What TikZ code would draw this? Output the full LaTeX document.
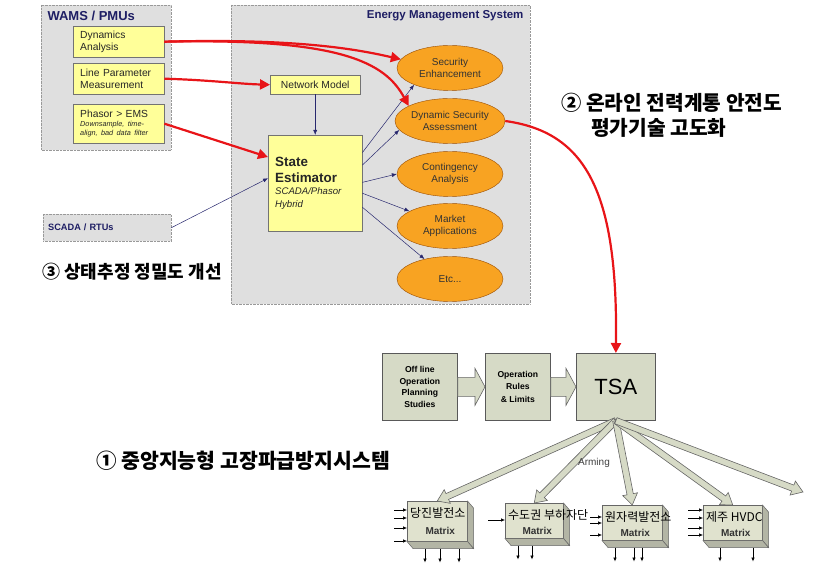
\documentclass[tikz,border=0pt]{standalone}
\usepackage{fontspec}
\setmainfont{Liberation Sans}
\newfontfamily\kfont{Noto Sans CJK KR}
\usetikzlibrary{shapes.geometric,arrows.meta,calc}

\definecolor{panelgray}{RGB}{223,223,223}
\definecolor{titlenavy}{RGB}{30,30,100}
\definecolor{noteyellow}{RGB}{255,255,153}
\definecolor{emsorange}{RGB}{248,163,34}
\definecolor{tsagreen}{RGB}{214,218,198}
\definecolor{matrixgreen}{RGB}{224,226,206}
\definecolor{hotred}{RGB}{232,20,24}
\definecolor{linknavy}{RGB}{40,40,110}

\tikzset{
  panel/.style={draw=gray!80, densely dotted, fill=panelgray},
  note/.style={draw=gray!90!black, fill=noteyellow, anchor=north west, align=left,
    inner xsep=7pt, text=black!85, font=\fontsize{10.3}{12}\selectfont},
  task/.style={ellipse, draw=orange!60!black, fill=emsorange, minimum width=106pt,
    minimum height=45pt, inner sep=0pt, align=center, text=black!80,
    font=\fontsize{10}{12.4}\selectfont},
  redlink/.style={draw=hotred, line width=2.2pt, -{Triangle[length=10pt,width=10pt]}},
  thinlink/.style={draw=linknavy, line width=0.5pt, -{Latex[length=5pt,width=4pt]}},
  stage/.style={draw=black!65, fill=tsagreen, anchor=north west, align=center,
    line width=0.7pt, minimum height=67pt},
  matrixbox/.style={draw=black!60, fill=matrixgreen, anchor=north west, line width=0.5pt},
  matrixside/.style={draw=black!60, fill=matrixgreen!80!black, line width=0.5pt},
  fat/.style={draw=black!60, fill=tsagreen, line width=0.6pt},
  pin/.style={line width=0.6pt, -{Latex[length=4pt,width=3.5pt]}},
  headline/.style={anchor=west, inner sep=0pt, align=left}
}

\begin{document}
\begin{tikzpicture}[x=1pt,y=-1pt]
\useasboundingbox (0,0) rectangle (814,577);

% WAMS side
\draw[panel] (41,5) rectangle (171,150);
\node[anchor=west, text=titlenavy, font=\bfseries\fontsize{13}{15}\selectfont] (wams) at (44,16) {WAMS / PMUs};
\node[note, text width=77pt, minimum height=31pt] (dyn) at (73,26) {Dynamics\\Analysis};
\node[note, text width=77pt, minimum height=31pt] (lpm) at (73,63) {Line Parameter\\Measurement};
\node[note, text width=77pt, minimum height=39pt] (phs) at (73,104) {Phasor > EMS\par
  {\fontsize{7.3}{8.8}\selectfont\itshape Downsample, time-\\align, bad data filter\par}};

\node[panel, anchor=north west, text width=118pt, inner xsep=5pt, minimum height=27pt, align=left,
  text=titlenavy, font=\bfseries\fontsize{9.2}{11}\selectfont] (scada) at (43,214) {SCADA / RTUs};

% EMS
\draw[panel] (231,5) rectangle (530,304);
\node[anchor=east, text=titlenavy, font=\bfseries\fontsize{11.5}{13}\selectfont] (emstitle) at (527,16) {Energy Management System};
\node[note, minimum width=90pt, minimum height=19pt] (nm) at (270,75) {Network Model};
\node[note, text width=80pt, minimum height=96pt] (se) at (268,135)
  {{\bfseries\fontsize{13.4}{15.7}\selectfont State\\Estimator\par}
   {\itshape\fontsize{9.6}{12.4}\selectfont SCADA/Phasor\\Hybrid\par}};

\node[task] (sec) at (450,68) {Security\\Enhancement};
\node[task] (dsa) at (450,121) {Dynamic Security\\Assessment};
\node[task] (cont) at (450,174) {Contingency\\Analysis};
\node[task] (mkt) at (450,226) {Market\\Applications};
\node[task] (etc) at (450,279) {Etc...};

\draw[thinlink] (nm.south) -- (se.north);
\draw[thinlink] (scada.east) -- (se.174);
\draw[thinlink] (se.33) -- (sec.205);
\draw[thinlink] (se.21) -- (dsa.190);
\draw[thinlink] (se.1) -- (cont.west);
\draw[thinlink] (se.-12) -- (mkt.160);
\draw[thinlink] (se.-27) -- (etc.142);

% TSA chain
\node[stage, minimum width=75pt, font=\bfseries\fontsize{8.6}{11.7}\selectfont] (offline) at (382,353) {Off line\\Operation\\Planning\\Studies};
\node[stage, minimum width=65pt, font=\bfseries\fontsize{8.6}{12.2}\selectfont] (rules) at (485,353) {Operation\\Rules\\\& Limits};
\node[stage, minimum width=79pt, font=\fontsize{22}{24}\selectfont] (tsa) at (576,353) {TSA};

% red links
\draw[redlink] (dyn.east) .. controls (300,38) and (360,50) .. (sec.170);
\draw[redlink] (dyn.east) .. controls (340,38) and (385,62) .. (dsa.160);
\draw[redlink] (lpm.east) .. controls (210,80) and (240,84) .. (nm.west);
\draw[redlink] (phs.east) -- (se.151);
\draw[redlink] (dsa.east) .. controls (585,132) and (618,190) .. (tsa.north);

% matrices
\node[matrixbox, minimum width=60pt, minimum height=40pt] (m1) at (407,501) {};
\node[matrixbox, minimum width=58pt, minimum height=35pt] (m2) at (505,503) {};
\node[matrixbox, minimum width=60pt, minimum height=35pt] (m3) at (602,505) {};
\node[matrixbox, minimum width=59pt, minimum height=35pt] (m4) at (703,505) {};

\foreach \m/\site in {m1/당진발전소, m2/수도권 부하자단, m3/원자력발전소, m4/제주 HVDC}
{
    \draw[matrixside] (\m.north east) -- ++(6,7) -- ($(\m.south east)+(6,7)$) -- (\m.south east) -- cycle;
    \draw[matrixside] (\m.south west) -- ++(6,7) -- ($(\m.south east)+(6,7)$) -- (\m.south east) -- cycle;
    \node[anchor=west, inner sep=0pt, font=\kfont\fontsize{12}{14}\selectfont] (site\m) at ($(\m.north west)+(3,12)$) {\site};
    \node[font=\bfseries\fontsize{10}{12}\selectfont, text=black!80] (mx\m) at ($(\m.center)+(3,10)$) {Matrix};
}

\foreach \dy in {9,17,27,40} \draw[pin] ($(m1.north west)+(-13,\dy)$) -- ++(13,0);
\foreach \dy in {17} \draw[pin] ($(m2.north west)+(-17,\dy)$) -- ++(17,0);
\foreach \dy in {12,18,30} \draw[pin] ($(m3.north west)+(-12,\dy)$) -- ++(12,0);
\foreach \dy in {5,13,23,30} \draw[pin] ($(m4.north west)+(-15,\dy)$) -- ++(15,0);

\foreach \dx in {18,33,52} \draw[pin] ($(m1.south west)+(\dx,7)$) -- ++(0,14);
\foreach \dx in {13,27} \draw[pin] ($(m2.south west)+(\dx,7)$) -- ++(0,14);
\foreach \dx in {13,32,40} \draw[pin] ($(m3.south west)+(\dx,7)$) -- ++(0,14);
\foreach \dx in {17,50} \draw[pin] ($(m4.south west)+(\dx,7)$) -- ++(0,14);

% block arrows
\coordinate (spill) at (803,492);
\foreach \a/\b/\w/\h/\l in {offline.east/rules.west/9.5/18.5/10, rules.east/tsa.west/9.5/18.5/10,
  tsa.south/m1.north/3.2/7.5/11, tsa.south/m2.north/3.2/7.5/11, tsa.south/m3.north/3.2/7.5/11,
  tsa.south/m4.north/3.2/7.5/11, tsa.south/spill/3.2/7.5/11}
{
    \coordinate (hb) at ($(\b)!\l pt!(\a)$);
    \draw[fat] ($(\a)!\w pt!90:(\b)$) -- ($(hb)!\w pt!90:(\b)$) -- ($(hb)!\h pt!90:(\b)$) -- (\b)
      -- ($(hb)!\h pt!-90:(\b)$) -- ($(hb)!\w pt!-90:(\b)$) -- ($(\a)!\w pt!-90:(\b)$) -- cycle;
}
\node[font=\fontsize{10}{12}\selectfont, text=black!75] (arming) at (594,463) {Arming};

% headlines
\node[headline, font=\kfont\bfseries\fontsize{20.3}{25}\selectfont] (h2) at (561,115.5) {② 온라인 전력계통 안전도\\\hspace*{30pt}평가기술 고도화};
\node[headline, font=\kfont\bfseries\fontsize{18}{22}\selectfont] (h3) at (42,272) {③ 상태추정 정밀도 개선};
\node[headline, font=\kfont\bfseries\fontsize{20.5}{24}\selectfont] (h1) at (96,461) {① 중앙지능형 고장파급방지시스템};

\end{tikzpicture}
\end{document}
